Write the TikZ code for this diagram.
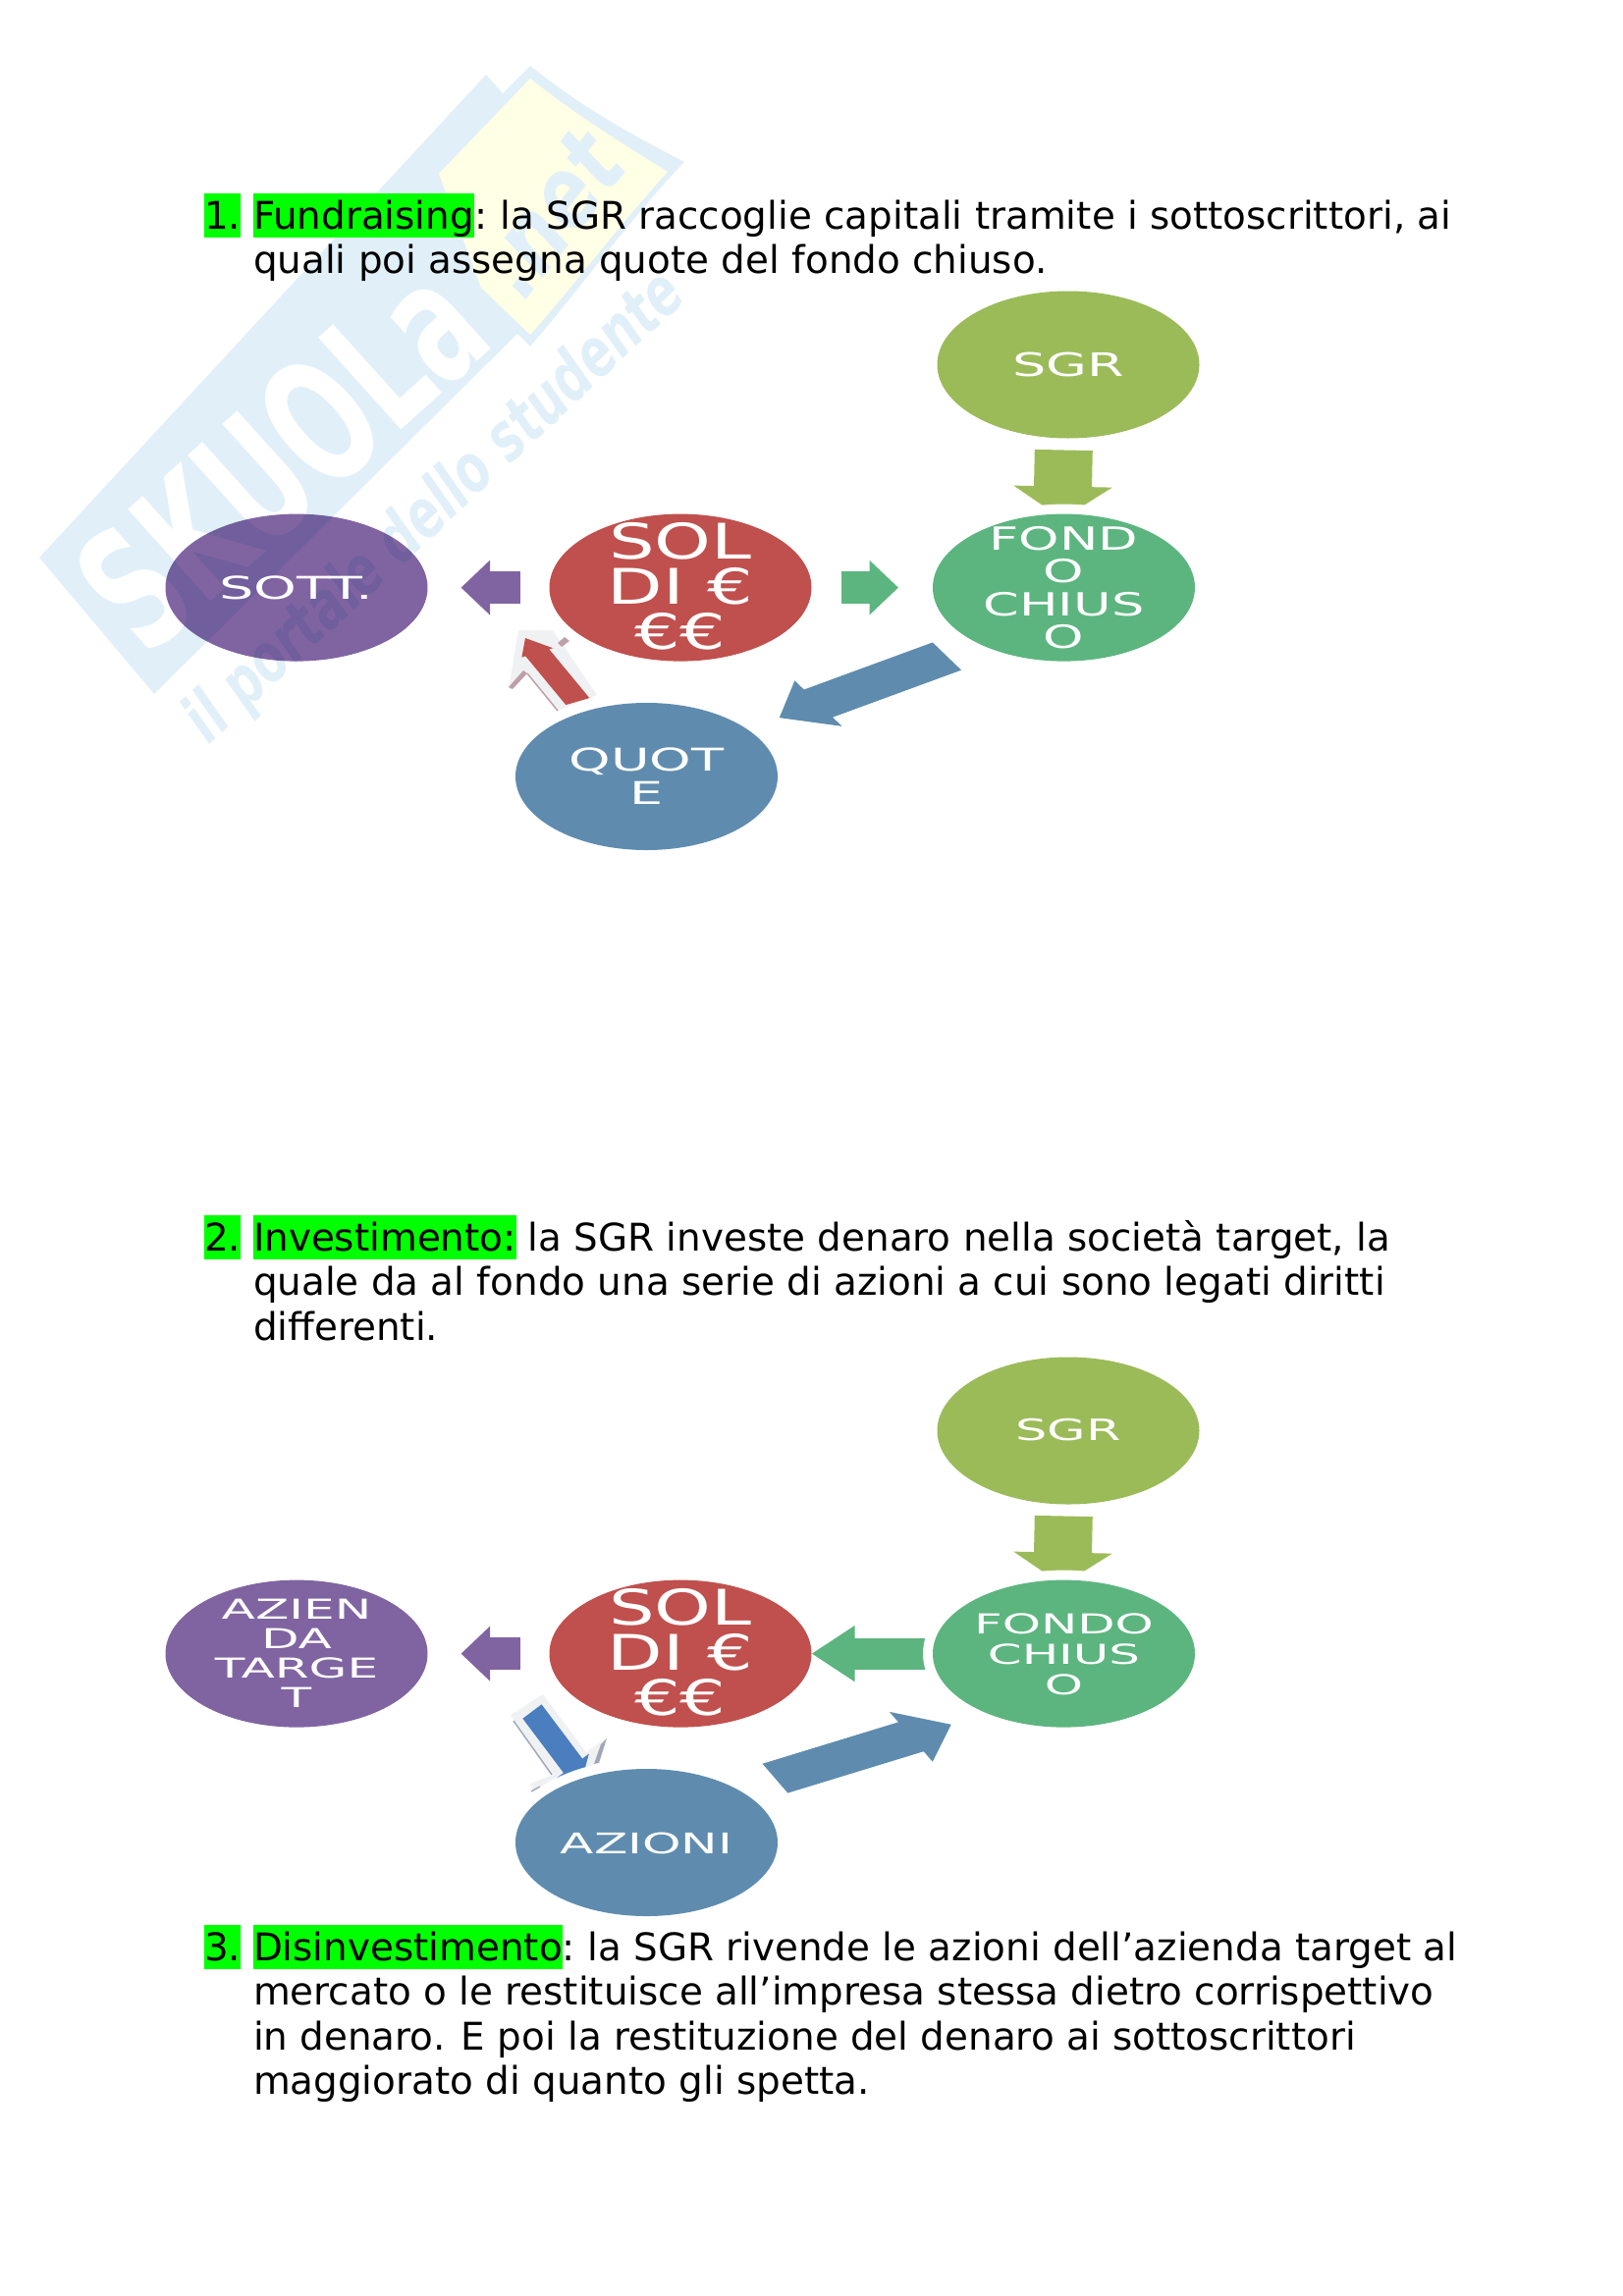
\documentclass[tikz,border=0pt]{standalone}
\usepackage{fontspec}
\setmainfont{DejaVu Sans}
\usetikzlibrary{shapes.geometric,arrows.meta,calc}
\pgfdeclarelayer{wm}\pgfdeclarelayer{arrs}\pgfsetlayers{wm,arrs,main}
\definecolor{cyg}{HTML}{9BBB59}\definecolor{cgr}{HTML}{5CB57F}\definecolor{cre}{HTML}{C0504D}
\definecolor{cpu}{HTML}{8064A2}\definecolor{cbl}{HTML}{5F8CAE}\definecolor{cdb}{HTML}{4A7EBF}
\definecolor{wmb}{HTML}{E1F0F8}\definecolor{wmy}{HTML}{FFFFE6}\definecolor{hlg}{HTML}{00FF00}
\definecolor{pale}{HTML}{F0F1F3}\definecolor{shr}{HTML}{C0A0A8}\definecolor{shb}{HTML}{A0A8B8}
\newcommand{\ztxt}[5]{\smash{\makebox[0pt][c]{\raisebox{#5pt}{\scalebox{#1}[1]{\fontsize{#2}{#3}\selectfont\color{white}$\vcenter{\let\\\cr\baselineskip=#3pt\lineskiplimit=-100pt\halign{\hfil\vrule height.7\baselineskip width0pt depth.3\baselineskip ##\hfil\cr #4\cr}}$}}}}}
\newcommand{\PT}[2]{({\x1+((#1)*\n1-(#2)*1.68*\n2)*1pt},{\y1+((#1)*\n2+(#2)*\n1/1.68)*1pt})}
\tikzset{
 x=1pt,y=-1pt,
 oval/.style={ellipse,minimum width=267pt,minimum height=150pt,inner sep=0pt,outer sep=0pt,fill=#1},
 halo/.style={preaction={draw=white,line width=20pt}},
 multiplied/.style={preaction={fill=#1,blend mode=multiply}},
 barr/.style args={#1/#2/#3/#4}{draw=#1,line width=#2pt,-{Triangle[length=#4pt,width=#3pt]}},
 sheared/.style args={#1/#2/#3/#4/#5}{to path={
   let \p1=(\tikztostart),\p2=(\tikztotarget),\n1={\x2-\x1},\n2={\y2-\y1} in
   \PT{#1}{#4} -- \PT{#2}{#4} -- \PT{#2}{#5} -- \PT{#3}{0} -- \PT{#2}{-#5} -- \PT{#2}{-#4} -- \PT{#1}{-#4} -- cycle}},
 body/.style={anchor=base west,inner sep=0pt,outer sep=0pt,font=\fontsize{38.85}{45.3}\selectfont},
 hl/.style={body,fill=hlg,text height=36pt,text depth=9pt},
 wmtext/.style={inner sep=0pt,text=wmb}
}
\begin{document}
\begin{tikzpicture}
\useasboundingbox (0,0) rectangle (1653,2339);
% text
\node[hl] (n1) at (208,233) {1.};
\node[hl] (h1) at (258,233) {Fundraising};
\node[body] (t1a) at (h1.base east) {: \hspace{-3pt}la SGR raccoglie capitali tramite i sottoscrittori, ai};
\node[body] (t1b) at (258,278) {quali poi assegna quote del fondo chiuso.};
\node[hl] (n2) at (208,1274) {2.};
\node[hl] (h2) at (258,1274) {Investimento:};
\node[body] (t2a) at ($(h2.base east)+(12,0)$) {la SGR investe denaro nella società target, la};
\node[body] (t2b) at (258,1319) {quale da al fondo una serie di azioni a cui sono legati diritti};
\node[body] (t2c) at (258,1365) {differenti.};
\node[hl] (n3) at (208,1997) {3.};
\node[hl] (h3) at (258,1997) {Disinvestimento};
\node[body] (t3a) at (h3.base east) {: \hspace{-4pt}la SGR rivende le azioni dell’azienda target al};
\node[body] (t3b) at (258,2042) {mercato o le restituisce all’impresa stessa dietro corrispettivo};
\node[body] (t3c) at (258,2088) {in denaro. E poi la restituzione del denaro ai sottoscrittori};
\node[body] (t3d) at (258,2133) {maggiorato di quanto gli spetta.};
% diagram 1
\node[oval=cyg] (sgrA) at (1088,371.5) {\ztxt{1.64}{33}{36}{SGR}{-11.5}};
\node[oval=cgr,halo] (fonA) at (1083.5,598.6) {\ztxt{1.62}{32.5}{33.5}{FOND\\O\\CHIUS\\O}{-11}};
\node[oval=cre] (solA) at (693,598.6) {\ztxt{1.47}{50}{46}{SOL\\DI €\\€€}{-11}};
\node[oval=none,multiplied=cpu] (sotA) at (302,598.6) {\ztxt{1.74}{32}{36}{SOTT.}{-10.5}};
\node[oval=cbl,halo] (quoA) at (658.5,791) {\ztxt{1.69}{32}{34}{QUOT\\E}{-11}};
% diagram 2
\node[oval=cyg] (sgrB) at (1088,1457.5) {\ztxt{1.7}{30}{34}{SGR}{-9.5}};
\node[oval=cgr,halo] (fonB) at (1083.5,1684.6) {\ztxt{1.78}{28}{31}{FONDO\\CHIUS\\O}{-11}};
\node[oval=cre] (solB) at (693,1684.6) {\ztxt{1.47}{50}{46}{SOL\\DI €\\€€}{-11}};
\node[oval=cpu] (sotB) at (302,1684.6) {\ztxt{1.79}{28}{30.3}{AZIEN\\DA\\TARGE\\T}{-10}};
\node[oval=cbl,halo] (aziB) at (658.5,1877) {\ztxt{1.73}{29}{33}{AZIONI}{-11}};
\coordinate (redtip) at (535,650);
\coordinate (dbstart) at (542,1743.5);
\begin{pgfonlayer}{wm}
\fill[wmb] (40,568) -- (495,76) -- (512,95) -- (540,67) .. controls (600,115) and (650,140) .. (697,165)
  .. controls (640,225) and (590,295) .. (540,353) -- (527,340) -- (157,707) -- cycle;
\fill[wmy] (540,80) .. controls (590,120) and (640,150) .. (680,175)
  .. controls (630,230) and (585,290) .. (540,341) -- (490,293) -- (447,177) -- cycle;
\node[wmtext,text=white,rotate=42] (wmA) at (286,464) {\scalebox{1}[1.6]{\fontsize{108}{112}\selectfont\bfseries SKUOLa}};
\node[wmtext,rotate=52] (wmB) at (560,218) {\scalebox{1}[1.3]{\fontsize{78}{82}\selectfont\bfseries\itshape .net}};
\node[wmtext,rotate=43] (wmC) at (444,518) {\scalebox{1}[1.4]{\fontsize{49}{53}\selectfont\bfseries\itshape il portale dello studente}};
\end{pgfonlayer}
\begin{pgfonlayer}{arrs}
% bevel bits, diagram 1
\fill[pale] (528,642)--(563,642)--(608,708)--(568,724)--(537,685)--(518,702)--cycle;
\fill[shr] (568,655)--(575,649)--(580,653)--(572,659)--cycle;
\fill[shr] (518,700)--(533,683)--(537,686)--(522,702)--cycle;
\draw[shr,line width=1.5pt] (537,686)--(568,724);
\path[fill=cre,sheared=.134/.80/1/.096/.127] (quoA.133) to (redtip);
\draw[barr=cyg/59/99/33,shorten <=12pt,shorten >=-5pt,transform canvas={xshift=-3pt}] (sgrA) -- (fonA);
\draw[barr=cpu/33/54/29.5,shorten <=30pt,shorten >=34pt] (solA) -- (sotA);
\draw[barr=cgr/33/54/29.5,shorten <=30pt,shorten >=35pt] (solA) -- (fonA);
\path[fill=cbl,sheared=.142/.695/.8625/.1/.165] (fonA.214) to (quoA.25);
% bevel bits, diagram 2
\fill[pale] (520,1747)--(553,1726)--(597,1785)--(618,1770)--(605,1797)--(570,1815)--(543,1823)--(540,1817)--(563,1808)--cycle;
\draw[shb,line width=1.5pt] (523,1753)--(562,1808);
\fill[shb] (612,1777)--(618,1771)--(610,1796)--(605,1797)--cycle;
\draw[shb,line width=1.5pt] (541,1825)--(550,1820);
\draw[barr=cdb/24/40/16] (dbstart) -- (aziB.135);
\draw[barr=cyg/59/99/33,shorten <=12pt,shorten >=-5pt,transform canvas={xshift=-3pt}] (sgrB) -- (fonB);
\draw[barr=cpu/33/54/29.5,shorten <=30pt,shorten >=34pt] (solB) -- (sotB);
\draw[barr=cgr/32/54/44] (fonB) -- (solB);
\path[fill=cbl,sheared=.149/.694/.855/.0987/.168] (aziB.30) to (fonB.218);
\end{pgfonlayer}
\end{tikzpicture}
\end{document}
